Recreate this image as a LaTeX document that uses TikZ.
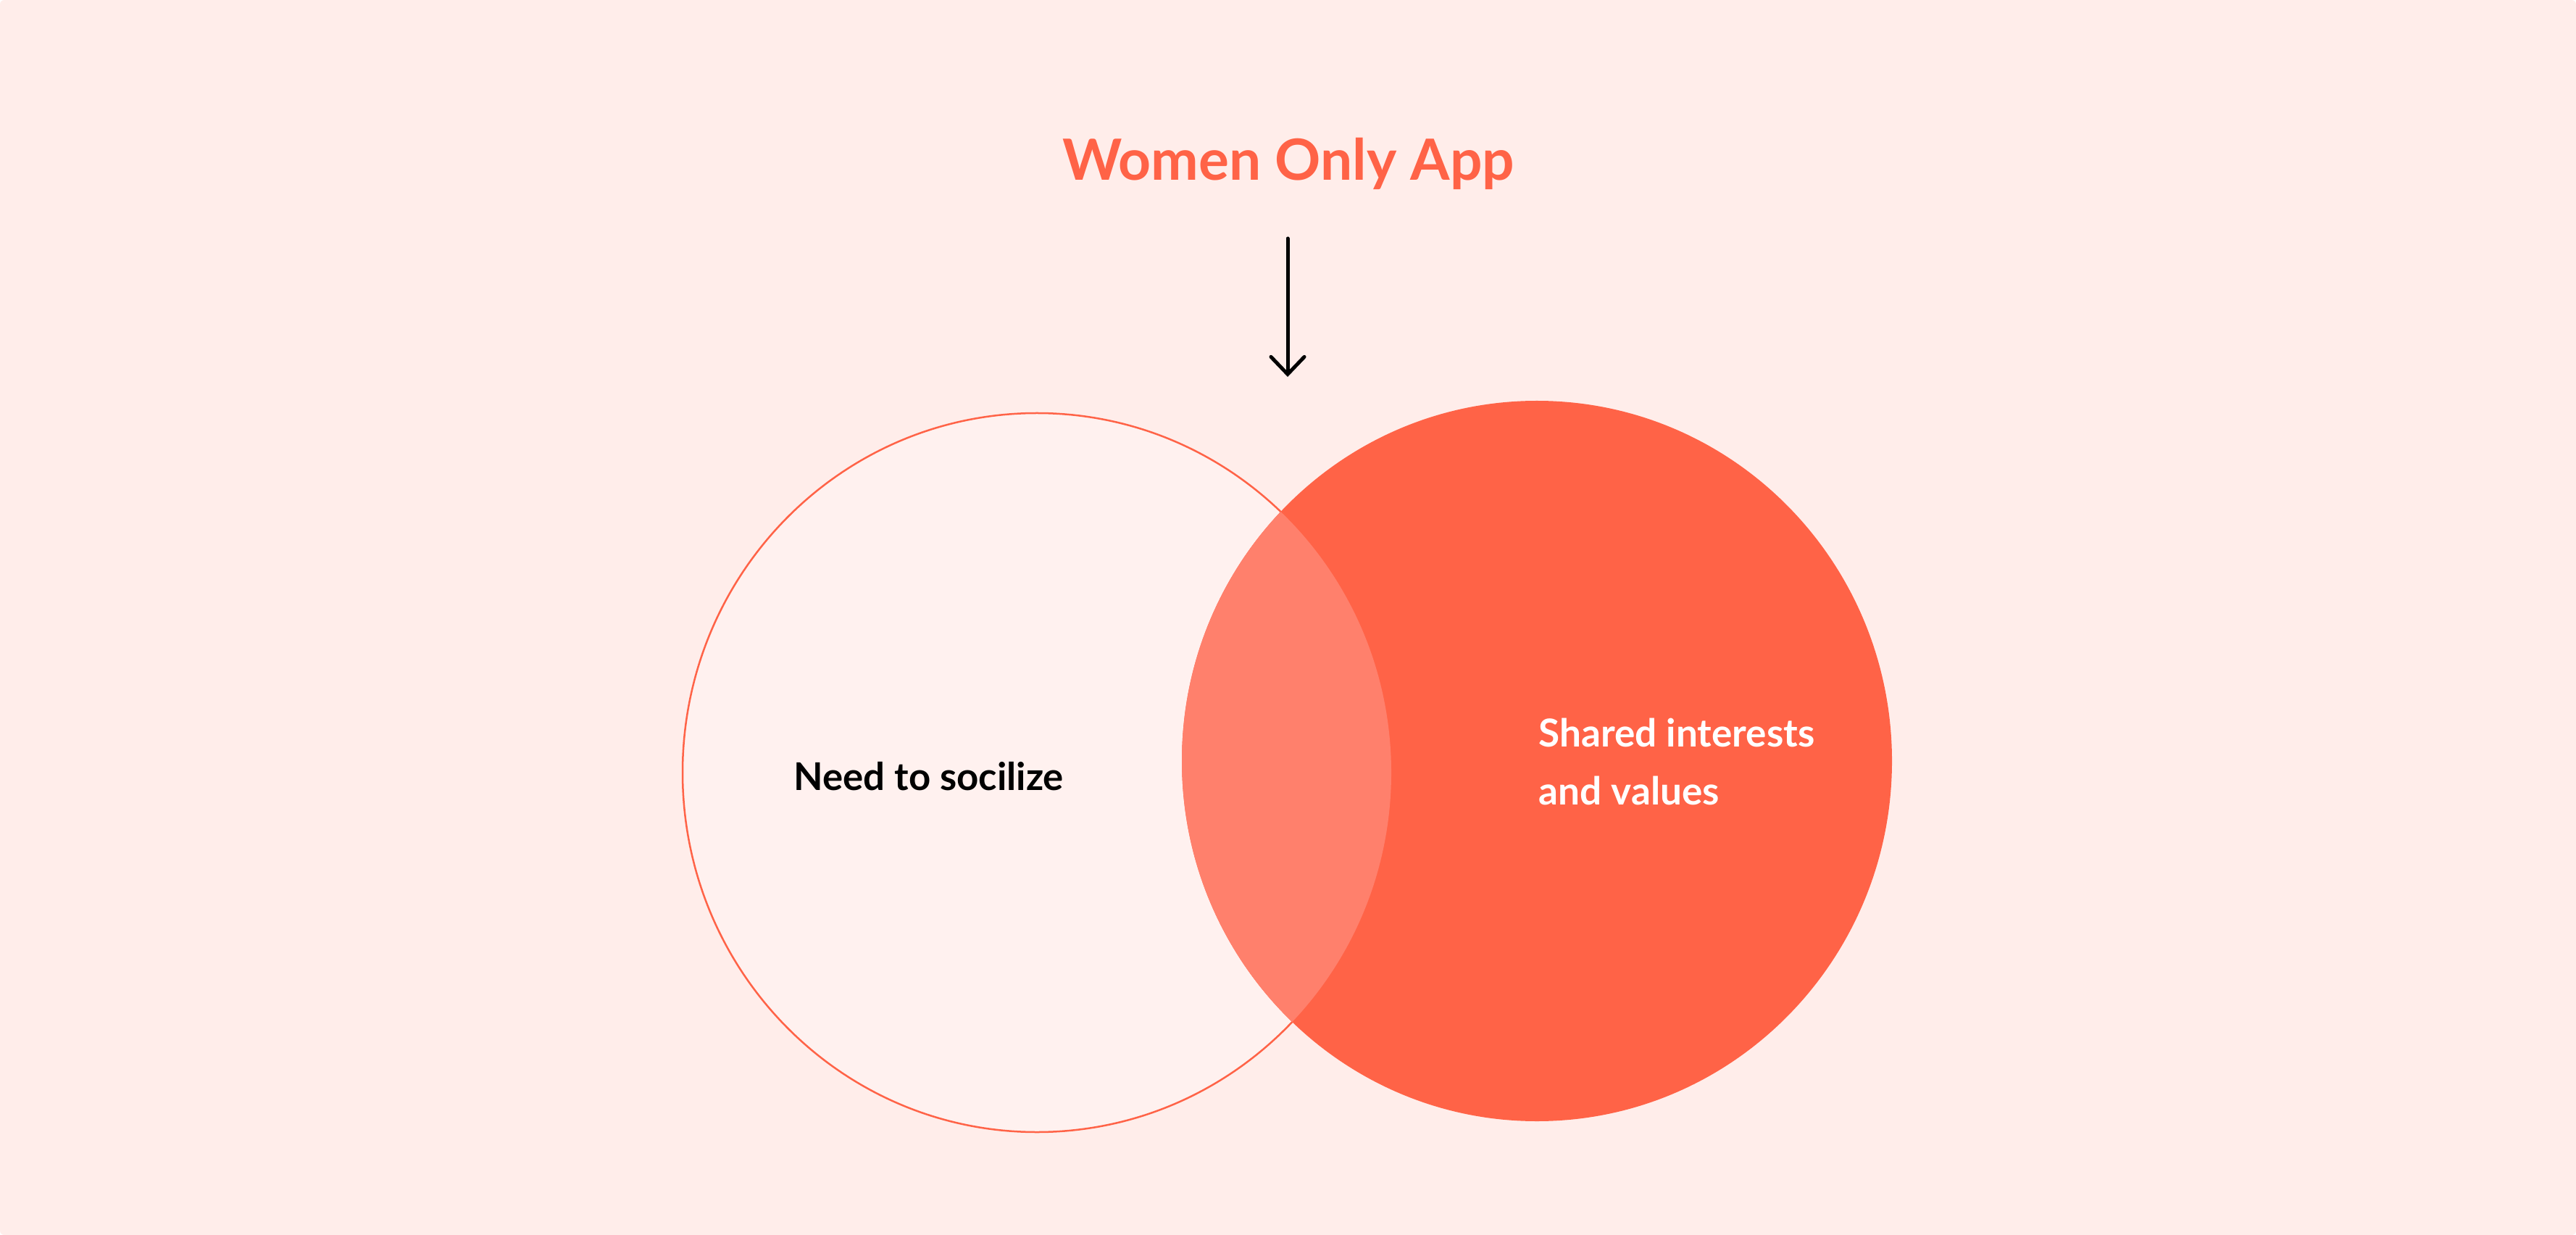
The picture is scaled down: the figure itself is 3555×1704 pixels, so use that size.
\documentclass[tikz,border=0pt]{standalone}
\usepackage{fontspec}
\setmainfont{Lato}
\usepackage{tikz}
\usetikzlibrary{arrows.meta, positioning}
\definecolor{pagebg}{HTML}{FFEDEA}
\definecolor{softfill}{HTML}{FFF1EF}
\definecolor{tomatored}{HTML}{FF6347}
\definecolor{overlapred}{HTML}{FF806C}
\tikzset{
    heading/.style={text=tomatored, font=\bfseries\fontsize{22.3}{27}\selectfont, anchor=base, inner sep=0pt},
    blacktxt/.style={text=black, font=\bfseries\fontsize{15}{18}\selectfont, anchor=base west, inner sep=0pt},
    whitetxt/.style={text=white, font=\bfseries\fontsize{15.1}{22.5}\selectfont, align=left, anchor=base west, inner sep=0pt},
    pointer/.style={-{Straight Barb[length=0.24cm, width=0.46cm, line cap=round]}, line width=0.05cm, line cap=round, black},
}

\begin{document}
\begin{tikzpicture}[x=0.01cm, y=-0.01cm]
    \tikzset{
      ringL/.style={draw=tomatored, line width=0.025cm, fill=softfill},
      ringR/.style={fill=tomatored}
    }

    \fill[pagebg, rounded corners=0.06cm] (0,0) rectangle (3555,1704);
    \useasboundingbox (0,0) rectangle (3555,1704);

    % centres of the two sets
    \coordinate (social) at (1431,1066);
    \coordinate (shared) at (2121,1050);

    \path[ringL] (social) ellipse [x radius=489, y radius=496];
    \path[ringR] (shared) ellipse [x radius=490, y radius=497];

    % the common part
    \begin{scope}
      \clip (social) ellipse [x radius=489, y radius=496];
      \fill[overlapred] (shared) ellipse [x radius=490, y radius=497];
    \end{scope}

    \node[heading] (title) at (1778,249) {Women Only App};
    \coordinate (arrtop) at (1777,329);
    \coordinate (arrtip) at (1777,520);
    \draw[pointer] (arrtop) -- (arrtip);

    \node[blacktxt] (needtxt) at (1095,1090) {Need to socilize};
    \node[whitetxt] (sharedtxt) at (2123,1110) {Shared interests\\and values};
\end{tikzpicture}
\end{document}
